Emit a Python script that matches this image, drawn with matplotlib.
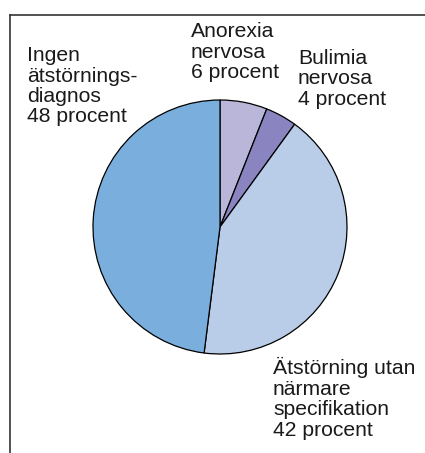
import matplotlib.pyplot as plt
from matplotlib.lines import Line2D

# andel per diagnos (procent), medurs från toppen
labels = ["Anorexia\nnervosa\n6 procent",
          "Bulimia\nnervosa\n4 procent",
          "Ätstörning utan\nnärmare\nspecifikation\n42 procent",
          "Ingen\nätstörnings-\ndiagnos\n48 procent"]
values = [6, 4, 42, 48]
colors = ["#b9b6da", "#8a84c0", "#b9cde9", "#7aaedd"]

W, H = 425, 453
fig = plt.figure(figsize=(W / 100, H / 100), dpi=100)
ax = fig.add_axes([0, 0, 1, 1])

ax.pie(values, colors=colors, startangle=90, counterclock=False,
       center=(220, H - 227), radius=127, frame=True,
       wedgeprops=dict(edgecolor="black", linewidth=0.9))
ax.set_xlim(0, W)
ax.set_ylim(0, H)
ax.set_aspect("equal")
ax.axis("off")

# etikettpositioner (vänsterkant, överkant) i pixlar
label_pos = [(191, 22), (298, 49), (273, 357), (27, 46)]
for text, (x, y) in zip(labels, label_pos):
    ax.text(x, H - y, text, ha="left", va="top", fontsize=15.2,
            family=["Liberation Sans", "DejaVu Sans"], linespacing=1.1,
            color="#1a1a1a")

# ram: vänster och överkant
fig.add_artist(Line2D([10 / W, 10 / W], [0, 1 - 15 / H], transform=fig.transFigure,
                      color="#333333", lw=1.2))
fig.add_artist(Line2D([10 / W, 1], [1 - 15 / H, 1 - 15 / H], transform=fig.transFigure,
                      color="#333333", lw=1.2))

fig.savefig("out.png", dpi=100)
